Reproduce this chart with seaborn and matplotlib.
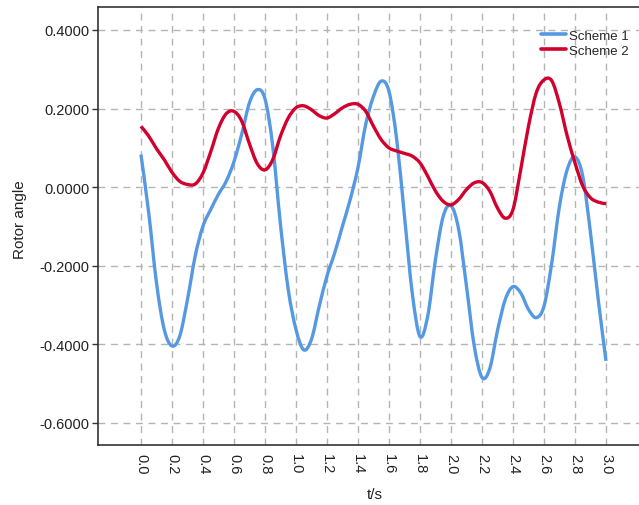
import matplotlib
matplotlib.use("Agg")
import matplotlib.pyplot as plt
from matplotlib.path import Path
from matplotlib.patches import PathPatch
import seaborn as sns
import pandas as pd
import numpy as np

# Sample times (s)
t = [0.00, 0.05, 0.10, 0.15, 0.20, 0.25, 0.30, 0.35, 0.40, 0.45,
     0.50, 0.55, 0.60, 0.65, 0.70, 0.75, 0.80, 0.85, 0.90, 0.95,
     1.00, 1.05, 1.10, 1.15, 1.20, 1.25, 1.30, 1.35, 1.40, 1.45,
     1.50, 1.55, 1.60, 1.65, 1.70, 1.75, 1.80, 1.85, 1.90, 1.95,
     2.00, 2.05, 2.10, 2.15, 2.20, 2.25, 2.30, 2.35, 2.40, 2.45,
     2.50, 2.55, 2.60, 2.65, 2.70, 2.75, 2.80, 2.85, 2.90, 2.95,
     3.00]

# Rotor angle, scheme 1
scheme1 = [0.083, -0.065, -0.243, -0.362, -0.404, -0.379, -0.286, -0.175, -0.099, -0.057,
           -0.018, 0.015, 0.065, 0.135, 0.215, 0.248, 0.225, 0.105, -0.095, -0.260,
           -0.362, -0.414, -0.387, -0.303, -0.226, -0.167, -0.099, -0.031, 0.050, 0.160,
           0.231, 0.270, 0.244, 0.121, -0.074, -0.269, -0.380, -0.328, -0.184, -0.074,
           -0.047, -0.108, -0.252, -0.404, -0.484, -0.462, -0.365, -0.286, -0.253, -0.269,
           -0.311, -0.332, -0.303, -0.193, -0.048, 0.045, 0.077, 0.028, -0.116, -0.286,
           -0.442]

# Rotor angle, scheme 2
scheme2 = [0.155, 0.130, 0.098, 0.070, 0.038, 0.015, 0.007, 0.008, 0.036, 0.090,
           0.150, 0.187, 0.193, 0.168, 0.110, 0.060, 0.044, 0.070, 0.130, 0.176,
           0.202, 0.207, 0.197, 0.182, 0.176, 0.187, 0.202, 0.211, 0.211, 0.193,
           0.155, 0.121, 0.100, 0.092, 0.086, 0.079, 0.062, 0.028, -0.010, -0.036,
           -0.045, -0.031, -0.006, 0.011, 0.012, -0.010, -0.053, -0.079, -0.057, 0.045,
           0.155, 0.240, 0.273, 0.271, 0.212, 0.130, 0.062, 0.003, -0.027, -0.038,
           -0.042]

series_names = ["Scheme 1", "Scheme 2"]
colors = ["#5699E3", "#D2002C"]

x_ticks = [0.0, 0.2, 0.4, 0.6, 0.8, 1.0, 1.2, 1.4, 1.6, 1.8, 2.0, 2.2, 2.4, 2.6, 2.8, 3.0]
y_ticks = [-0.6, -0.4, -0.2, 0.0, 0.2, 0.4]

df = pd.DataFrame({
    "t": t + t,
    "angle": scheme1 + scheme2,
    "scheme": [series_names[0]] * len(t) + [series_names[1]] * len(t),
})


def smooth_path(xs, ys):
    """Smoothed-line path (Catmull-Rom segments as cubic Beziers) through the samples."""
    pts = np.column_stack([xs, ys])
    n = len(pts)
    verts = [pts[0]]
    codes = [Path.MOVETO]
    for i in range(n - 1):
        p0 = pts[i - 1] if i > 0 else pts[i]
        p1 = pts[i]
        p2 = pts[i + 1]
        p3 = pts[i + 2] if i + 2 < n else pts[i + 1]
        c1 = p1 + (p2 - p0) / 6.0
        c2 = p2 - (p3 - p1) / 6.0
        verts += [c1, c2, p2]
        codes += [Path.CURVE4] * 3
    return Path(verts, codes)


sns.set_style("white")
plt.rcParams["font.family"] = ["Liberation Sans", "DejaVu Sans"]

fig = plt.figure(figsize=(6.39, 5.06), dpi=100)
ax = fig.add_axes([0.1534, 0.1186, 0.8466, 0.8656])

sns.lineplot(data=df, x="t", y="angle", hue="scheme", palette=colors,
             linewidth=2.4, ax=ax, sort=False)

# Render each series as a smoothed line
for line in list(ax.lines)[:len(series_names)]:
    xs, ys = line.get_xdata(), line.get_ydata()
    patch = PathPatch(smooth_path(np.asarray(xs, float), np.asarray(ys, float)),
                      facecolor="none", edgecolor=line.get_color(),
                      linewidth=2.4, capstyle="butt", joinstyle="round", zorder=2.5)
    ax.add_patch(patch)
    line.set_visible(False)

ax.set_xlim(-0.277, 3.213)
ax.set_ylim(-0.656, 0.4585)
ax.set_xticks(x_ticks)
ax.set_xticklabels([f"{v:.1f}" for v in x_ticks], rotation=-90, fontsize=10.5, color="#222222")
ax.set_yticks(y_ticks)
ax.set_yticklabels([f"{v:.4f}" for v in y_ticks], fontsize=10.5, color="#222222")

ax.grid(True, color="#b4b4b4", linestyle=(0, (5, 4)), linewidth=1.0)
ax.set_axisbelow(True)

for side in ["left", "bottom", "top"]:
    ax.spines[side].set_visible(True)
    ax.spines[side].set_color("#333333")
    ax.spines[side].set_linewidth(1.2)
ax.spines["right"].set_visible(False)

ax.tick_params(axis="y", length=4, width=1, color="#333333", pad=2, left=True)
ax.tick_params(axis="x", length=0, pad=6)

ax.set_xlabel("t/s", fontsize=11, color="#222222", labelpad=10)
ax.set_ylabel("Rotor angle", fontsize=11, color="#222222", labelpad=8)
ax.xaxis.set_label_coords(0.512, -0.095)
ax.yaxis.set_label_coords(-0.131, 0.516)

leg = ax.legend(loc="upper right", bbox_to_anchor=(1.0, 0.972), frameon=False, fontsize=9.5,
                handlelength=1.9, handletextpad=0.2, borderaxespad=0.4,
                labelspacing=0.2)
for line in leg.get_lines():
    line.set_linewidth(2.6)
    line.set_visible(True)

fig.savefig("out.png", dpi=100)
